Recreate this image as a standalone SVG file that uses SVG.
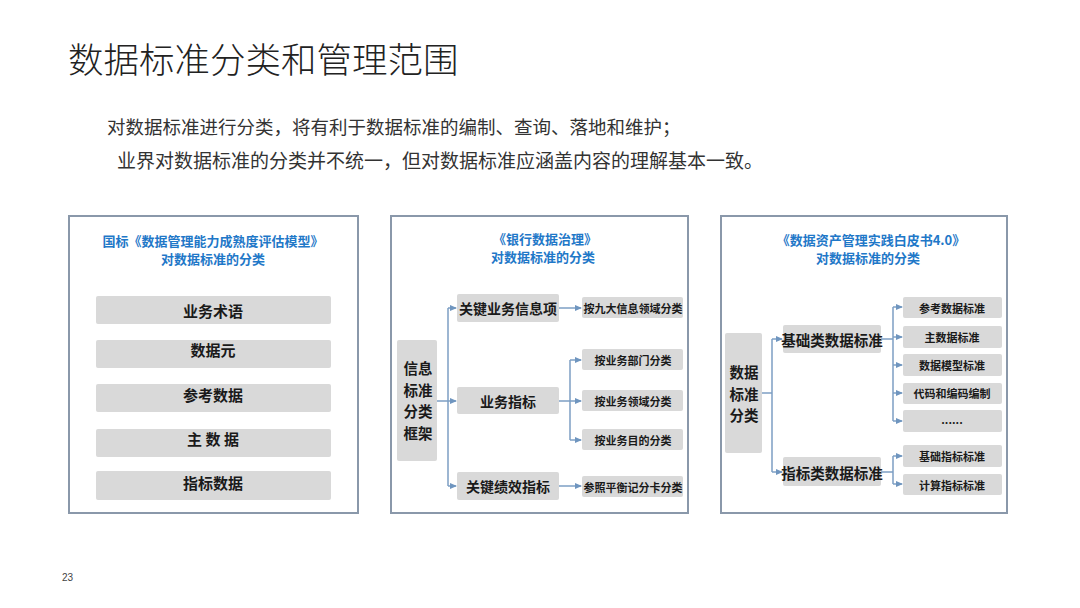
<svg xmlns="http://www.w3.org/2000/svg" width="1080" height="608" viewBox="0 0 1080 608">
<defs>
<marker id="ah" markerWidth="7" markerHeight="6" refX="6" refY="3" orient="auto" markerUnits="userSpaceOnUse">
<path d="M0,0 L7,3 L0,6 Z" fill="#6f95bf"/>
</marker>
<style>
.cjk{font-family:"Noto Sans CJK SC","Liberation Sans",sans-serif;}
.frame{fill:#fff;stroke:#8a98aa;stroke-width:2;}
.box{fill:#d9d9d9;}
.ptitle{font-size:13px;font-weight:bold;fill:#1f78c8;text-anchor:middle;}
.t15{font-size:15px;font-weight:bold;fill:#1a1a1a;text-anchor:middle;dominant-baseline:central;}
.t14{font-size:14px;font-weight:bold;fill:#1a1a1a;text-anchor:middle;dominant-baseline:central;}
.t11{font-size:11px;font-weight:bold;fill:#1a1a1a;text-anchor:middle;dominant-baseline:central;}
.tv{font-size:14.5px;font-weight:bold;fill:#1a1a1a;text-anchor:middle;}
.ln{fill:none;stroke:#7d9fc4;stroke-width:1.5;}
.ar{fill:none;stroke:#7d9fc4;stroke-width:1.5;marker-end:url(#ah);}
</style>
</defs>
<rect width="1080" height="608" fill="#fff"/>
<g id="header" class="cjk">
<text x="68" y="73" font-size="35.5" fill="#222" font-weight="300">数据标准分类和管理范围</text>
<text x="107" y="134" font-size="18.5" fill="#333">对数据标准进行分类，将有利于数据标准的编制、查询、落地和维护；</text>
<text x="117" y="168" font-size="19" fill="#333">业界对数据标准的分类并不统一，但对数据标准应涵盖内容的理解基本一致。</text>
<text x="62" y="581" font-size="10" fill="#444" font-family="Liberation Sans, sans-serif">23</text>
</g>

<!-- Panel 1 -->
<g id="panel1" class="cjk">
<rect class="frame" x="69" y="216" width="289" height="297"/>
<text class="ptitle" x="213" y="246">国标《数据管理能力成熟度评估模型》</text>
<text class="ptitle" x="213" y="264">对数据标准的分类</text>
</g>
<g id="p1-n1" class="cjk"><rect class="box" x="96" y="296" width="235" height="28" rx="2"/><text class="t15" x="213" y="310">业务术语</text></g>
<g id="p1-n2" class="cjk"><rect class="box" x="96" y="340" width="235" height="28" rx="2"/><text class="t15" x="213" y="349">数据元</text></g>
<g id="p1-n3" class="cjk"><rect class="box" x="96" y="384" width="235" height="28" rx="2"/><text class="t15" x="213" y="394">参考数据</text></g>
<g id="p1-n4" class="cjk"><rect class="box" x="96" y="429" width="235" height="28" rx="2"/><text class="t15" x="213" y="438">主 数 据</text></g>
<g id="p1-n5" class="cjk"><rect class="box" x="96" y="471" width="235" height="29" rx="2"/><text class="t15" x="213" y="482">指标数据</text></g>

<!-- Panel 2 -->
<g id="panel2" class="cjk">
<rect class="frame" x="391" y="216" width="297" height="297"/>
<text class="ptitle" x="545" y="244">《银行数据治理》</text>
<text class="ptitle" x="543" y="262">对数据标准的分类</text>
</g>
<g id="p2-root" class="cjk"><rect class="box" x="397" y="340" width="40" height="121" rx="2"/>
<text class="tv" x="418" y="374"><tspan x="418">信息</tspan><tspan x="418" dy="21.5">标准</tspan><tspan x="418" dy="21.5">分类</tspan><tspan x="418" dy="21.5">框架</tspan></text></g>
<g id="p2-m1" class="cjk"><rect class="box" x="457" y="294" width="102" height="28" rx="2"/><text class="t14" x="508" y="308">关键业务信息项</text></g>
<g id="p2-m2" class="cjk"><rect class="box" x="457" y="387" width="102" height="27" rx="2"/><text class="t14" x="508" y="401">业务指标</text></g>
<g id="p2-m3" class="cjk"><rect class="box" x="457" y="472" width="102" height="28" rx="2"/><text class="t14" x="508" y="486">关键绩效指标</text></g>
<g id="p2-r1" class="cjk"><rect class="box" x="582" y="297" width="101" height="21" rx="2"/><text class="t11" x="633" y="308">按九大信息领域分类</text></g>
<g id="p2-r2" class="cjk"><rect class="box" x="582" y="349" width="101" height="21" rx="2"/><text class="t11" x="633" y="360">按业务部门分类</text></g>
<g id="p2-r3" class="cjk"><rect class="box" x="582" y="390" width="101" height="21" rx="2"/><text class="t11" x="633" y="401">按业务领域分类</text></g>
<g id="p2-r4" class="cjk"><rect class="box" x="582" y="429" width="101" height="21" rx="2"/><text class="t11" x="633" y="440">按业务目的分类</text></g>
<g id="p2-r5" class="cjk"><rect class="box" x="582" y="476" width="101" height="21" rx="2"/><text class="t11" x="633" y="487">参照平衡记分卡分类</text></g>

<!-- Panel 3 -->
<g id="panel3" class="cjk">
<rect class="frame" x="721" y="216" width="286" height="297"/>
<text class="ptitle" x="871" y="245">《数据资产管理实践白皮书4.0》</text>
<text class="ptitle" x="868" y="263">对数据标准的分类</text>
</g>
<g id="p3-root" class="cjk"><rect class="box" x="725" y="333" width="37" height="120" rx="2"/>
<text class="tv" x="744" y="378"><tspan x="744">数据</tspan><tspan x="744" dy="21.5">标准</tspan><tspan x="744" dy="21.5">分类</tspan></text></g>
<g id="p3-m1" class="cjk"><rect class="box" x="783" y="325" width="98" height="28" rx="2"/><text class="t14" x="832" y="339" style="font-size:14.5px">基础类数据标准</text></g>
<g id="p3-m2" class="cjk"><rect class="box" x="783" y="457" width="98" height="29" rx="2"/><text class="t14" x="832" y="472" style="font-size:14.5px">指标类数据标准</text></g>
<g id="p3-r1" class="cjk"><rect class="box" x="903" y="297" width="99" height="21" rx="2"/><text class="t11" x="952" y="308">参考数据标准</text></g>
<g id="p3-r2" class="cjk"><rect class="box" x="903" y="326" width="99" height="22" rx="2"/><text class="t11" x="952" y="337">主数据标准</text></g>
<g id="p3-r3" class="cjk"><rect class="box" x="903" y="354" width="99" height="22" rx="2"/><text class="t11" x="952" y="365">数据模型标准</text></g>
<g id="p3-r4" class="cjk"><rect class="box" x="903" y="383" width="99" height="21" rx="2"/><text class="t11" x="952" y="393">代码和编码编制</text></g>
<g id="p3-r5" class="cjk"><rect class="box" x="903" y="410" width="99" height="22" rx="2"/><text class="t11" x="952" y="419">......</text></g>
<g id="p3-r6" class="cjk"><rect class="box" x="903" y="445" width="99" height="22" rx="2"/><text class="t11" x="952" y="456">基础指标标准</text></g>
<g id="p3-r7" class="cjk"><rect class="box" x="903" y="474" width="99" height="21" rx="2"/><text class="t11" x="952" y="485">计算指标标准</text></g>

<g id="connectors">
<path class="ln" d="M437,401 H448 M448,308 V486"/>
<path class="ar" d="M448,308 H456"/>
<path class="ar" d="M448,401 H456"/>
<path class="ar" d="M448,486 H456"/>
<path class="ar" d="M559,308 H581"/>
<path class="ln" d="M559,401 H570 M570,360 V440"/>
<path class="ar" d="M570,360 H581"/>
<path class="ar" d="M570,401 H581"/>
<path class="ar" d="M570,440 H581"/>
<path class="ar" d="M559,486 H581"/>
<path class="ln" d="M762,393 H772 M772,339 V472"/>
<path class="ar" d="M772,339 H782"/>
<path class="ar" d="M772,472 H782"/>
<path class="ln" d="M881,339 H893 M893,307 V421"/>
<path class="ar" d="M893,307 H902"/>
<path class="ar" d="M893,337 H902"/>
<path class="ar" d="M893,365 H902"/>
<path class="ar" d="M893,393 H902"/>
<path class="ar" d="M893,421 H902"/>
<path class="ln" d="M881,472 H893 M893,456 V484"/>
<path class="ar" d="M893,456 H902"/>
<path class="ar" d="M893,484 H902"/>
</g>
</svg>
